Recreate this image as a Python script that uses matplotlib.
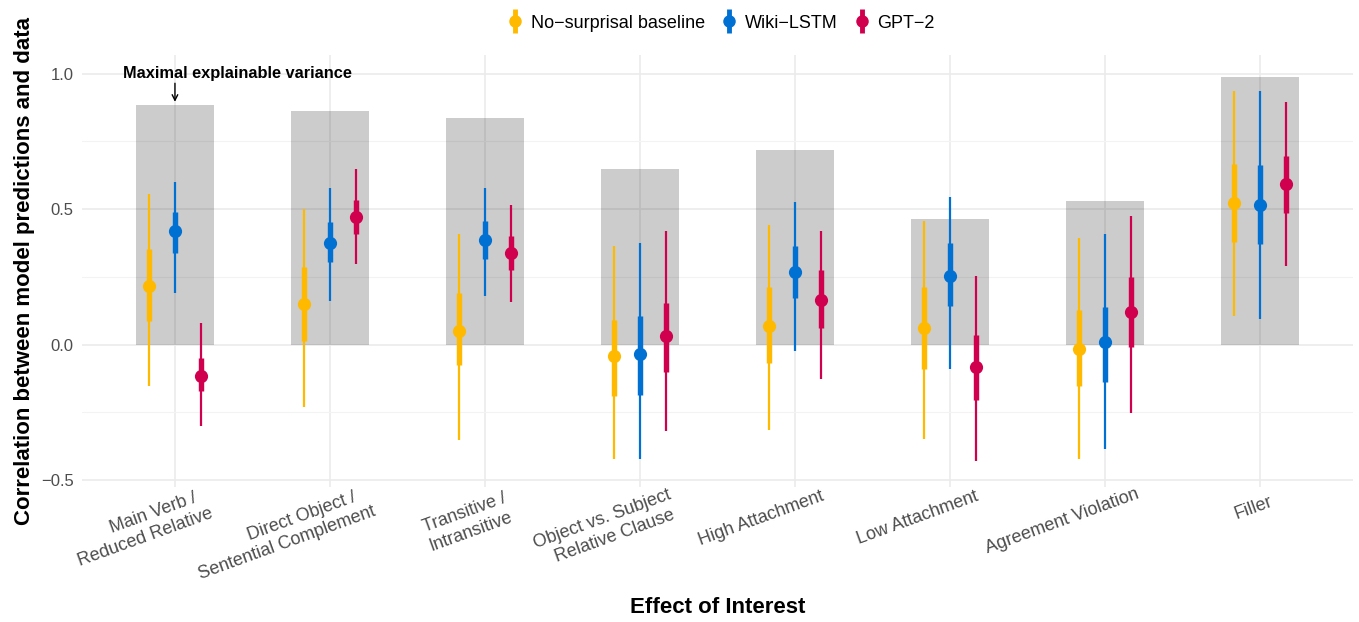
import matplotlib as mpl
mpl.use('Agg')
import matplotlib.pyplot as plt
import matplotlib.transforms as mtransforms
from matplotlib.lines import Line2D
from matplotlib.legend_handler import HandlerTuple
import numpy as np

mpl.rcParams['font.family'] = ['Liberation Sans', 'DejaVu Sans']

categories = ['Main Verb /\nReduced Relative', 'Direct Object /\nSentential Complement',
              'Transitive /\nIntransitive', 'Object vs. Subject\nRelative Clause',
              'High Attachment', 'Low Attachment', 'Agreement Violation', 'Filler']

# maximal explainable variance (grey bars)
ceiling = [0.886, 0.864, 0.835, 0.648, 0.718, 0.465, 0.531, 0.989]

series_names = ['No\u2212surprisal baseline', 'Wiki\u2212LSTM', 'GPT\u22122']
series_colors = ['#FFBA00', '#0070D3', '#D0004F']

baseline_mid = [0.216, 0.150, 0.050, -0.041, 0.070, 0.062, -0.015, 0.524]
baseline_in_lo = [0.088, 0.015, -0.073, -0.190, -0.066, -0.088, -0.154, 0.380]
baseline_in_hi = [0.355, 0.286, 0.190, 0.090, 0.212, 0.212, 0.128, 0.667]
baseline_out_lo = [-0.154, -0.230, -0.350, -0.420, -0.315, -0.348, -0.420, 0.106]
baseline_out_hi = [0.557, 0.500, 0.410, 0.366, 0.440, 0.458, 0.392, 0.938]

lstm_mid = [0.418, 0.377, 0.388, -0.036, 0.267, 0.253, 0.011, 0.517]
lstm_in_lo = [0.340, 0.307, 0.315, -0.187, 0.172, 0.143, -0.136, 0.370]
lstm_in_hi = [0.490, 0.454, 0.458, 0.106, 0.363, 0.374, 0.139, 0.663]
lstm_out_lo = [0.190, 0.160, 0.180, -0.420, -0.022, -0.088, -0.385, 0.095]
lstm_out_hi = [0.600, 0.578, 0.578, 0.377, 0.527, 0.546, 0.410, 0.938]

gpt_mid = [-0.114, 0.470, 0.340, 0.033, 0.165, -0.081, 0.120, 0.593]
gpt_in_lo = [-0.170, 0.410, 0.275, -0.100, 0.062, -0.205, -0.007, 0.487]
gpt_in_hi = [-0.050, 0.535, 0.403, 0.154, 0.275, 0.037, 0.249, 0.696]
gpt_out_lo = [-0.300, 0.297, 0.157, -0.320, -0.128, -0.430, -0.253, 0.290]
gpt_out_hi = [0.080, 0.648, 0.516, 0.418, 0.418, 0.253, 0.476, 0.897]

series = [
    (baseline_mid, baseline_in_lo, baseline_in_hi, baseline_out_lo, baseline_out_hi),
    (lstm_mid, lstm_in_lo, lstm_in_hi, lstm_out_lo, lstm_out_hi),
    (gpt_mid, gpt_in_lo, gpt_in_hi, gpt_out_lo, gpt_out_hi),
]

W, H = 1359, 622
fig = plt.figure(figsize=(W / 100, H / 100), dpi=100)
ax = fig.add_axes([0.0603, 0.217, 0.9353, 0.695])

x = np.arange(len(categories))
ax.bar(x, ceiling, width=0.5, color='black', alpha=0.2, zorder=2, linewidth=0)

offsets = [-0.168, 0.0, 0.168]
handles = []
for (mid, ilo, ihi, olo, ohi), col, off in zip(series, series_colors, offsets):
    xs = x + off
    ax.vlines(xs, olo, ohi, color=col, lw=1.6, zorder=3)
    ax.vlines(xs, ilo, ihi, color=col, lw=3.9, zorder=4)
    ax.plot(xs, mid, 'o', color=col, ms=9.5, zorder=5, mec='none')
    h = (Line2D([], [], marker='|', color=col, ms=17, mew=3.5, ls='none'),
         Line2D([], [], marker='o', color=col, ms=9, mec='none', ls='none'))
    handles.append(h)

ax.set_xlim(-0.6, 7.6)
ax.set_ylim(-0.525, 1.07)
ax.set_yticks([-0.5, 0.0, 0.5, 1.0])
ax.set_yticklabels(['\u22120.5', '0.0', '0.5', '1.0'])
ax.set_yticks([-0.25, 0.25, 0.75], minor=True)
ax.set_xticks(x)
ax.set_xticklabels([])

ax.grid(True, which='major', color='#EBEBEB', lw=1.2, zorder=0)
ax.grid(True, which='minor', axis='y', color='#F3F3F3', lw=0.8, zorder=0)
ax.set_axisbelow(True)
for s in ax.spines.values():
    s.set_visible(False)
ax.tick_params(axis='both', which='both', length=0, labelsize=12, labelcolor='#4D4D4D')
ax.tick_params(axis='y', pad=6)

ax.set_ylabel('Correlation between model predictions and data', fontsize=16,
              fontweight='bold')
ax.yaxis.set_label_coords(-0.037, 0.5)
ax.set_xlabel('Effect of Interest', fontsize=16, fontweight='bold', va='top')
ax.xaxis.set_label_coords(0.5, -0.255)

ax.annotate('', xy=(0, ceiling[0]), xytext=(0, 0.975),
            arrowprops=dict(arrowstyle='->', color='black', lw=1.0, mutation_scale=10))
ax.text(0.40, 1.0, 'Maximal explainable variance', ha='center', va='center',
        fontsize=11.8, fontweight='bold', color='black')

fig.legend(handles, series_names, handler_map={tuple: HandlerTuple(ndivide=1, pad=0)},
           loc='center', bbox_to_anchor=(0.531, 0.963), ncol=3, frameon=False,
           fontsize=13, handlelength=0.7, handletextpad=0.5, columnspacing=1.0)

# rotated category labels, ggplot-style (angle=20, hjust~0.8)
ang = np.deg2rad(20)
hjust = 0.81
line_h = 20.0
anchor_y = H - 496
ident = mtransforms.IdentityTransform()
fig.canvas.draw()
r = fig.canvas.get_renderer()
for xi, lab in zip(x, categories):
    tick_px = ax.transData.transform((xi, 0))[0]
    ax_x, ax_y = tick_px + 2, anchor_y
    for i, line in enumerate(lab.split('\n')):
        t = fig.text(0, 0, line, fontsize=13, color='#4D4D4D', ha='right', va='top',
                     rotation=0, rotation_mode='anchor', transform=ident)
        w = t.get_window_extent(r).width
        px = ax_x + (1 - hjust) * w * np.cos(ang) + i * line_h * np.sin(ang)
        py = ax_y + (1 - hjust) * w * np.sin(ang) - i * line_h * np.cos(ang)
        t.set_position((px, py))
        t.set_rotation(20)

fig.savefig('out.png', dpi=100)
